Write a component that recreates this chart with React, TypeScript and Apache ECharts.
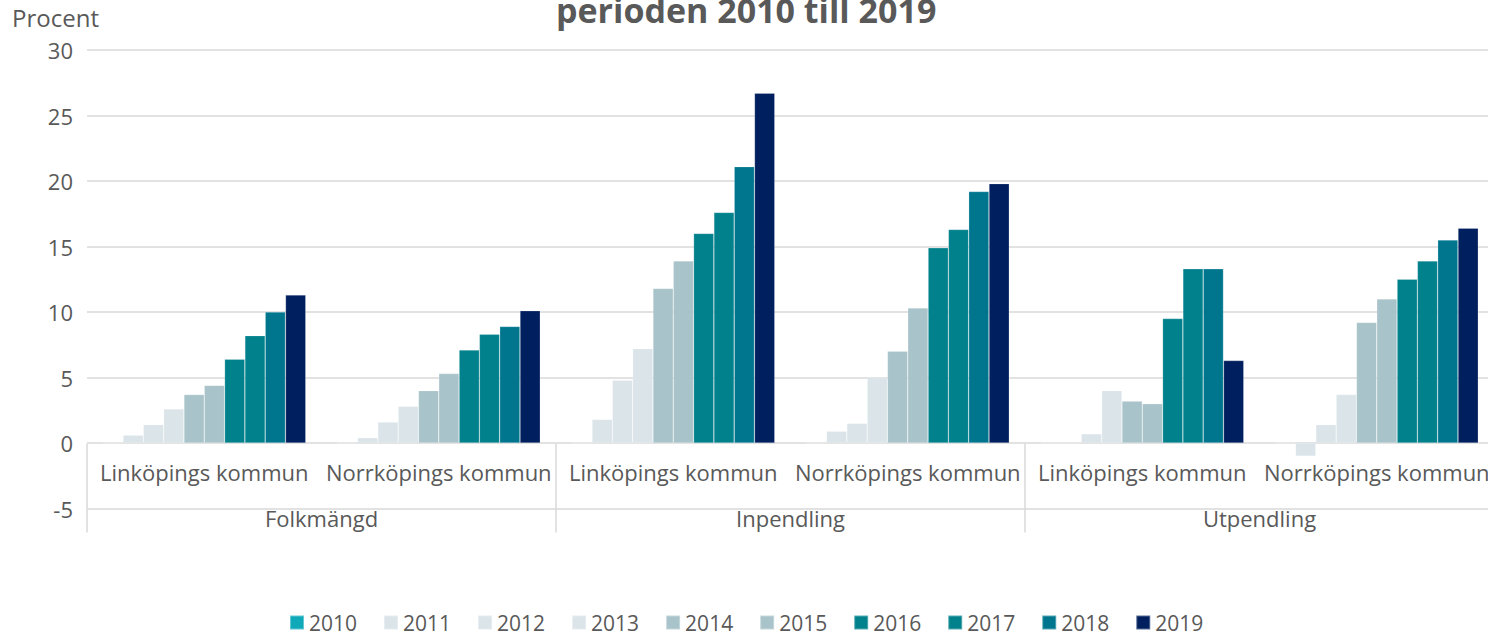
import React, { useEffect, useRef } from "react";
import * as echarts from "echarts";

const categories = [
  "Linköpings kommun",
  "Norrköpings kommun",
  "Linköpings kommun",
  "Norrköpings kommun",
  "Linköpings kommun",
  "Norrköpings kommun",
];
const groups = ["Folkmängd", "Inpendling", "Utpendling"];
const years = ["2010", "2011", "2012", "2013", "2014", "2015", "2016", "2017", "2018", "2019"];

const v2010 = [0, 0, 0, 0, 0, 0];
const v2011 = [0.6, 0.4, 1.8, 0.9, 0.0, -1.0];
const v2012 = [1.4, 1.6, 4.8, 1.5, 0.7, 1.4];
const v2013 = [2.6, 2.8, 7.2, 5.0, 4.0, 3.7];
const v2014 = [3.7, 4.0, 11.8, 7.0, 3.2, 9.2];
const v2015 = [4.4, 5.3, 13.9, 10.3, 3.0, 11.0];
const v2016 = [6.4, 7.1, 16.0, 14.9, 9.5, 12.5];
const v2017 = [8.2, 8.3, 17.6, 16.3, 13.3, 13.9];
const v2018 = [10.0, 8.9, 21.1, 19.2, 13.3, 15.5];
const v2019 = [11.3, 10.1, 26.7, 19.8, 6.3, 16.4];

const values = [v2010, v2011, v2012, v2013, v2014, v2015, v2016, v2017, v2018, v2019];
const colors = [
  "#0FA9BA",
  "#DAE4E9",
  "#DAE4E9",
  "#DAE4E9",
  "#A8C3C9",
  "#A8C3C9",
  "#00818B",
  "#00818B",
  "#00768E",
  "#001F5E",
];

const yTicks = { min: -5, max: 30, interval: 5 };

const FONT = "'Open Sans', 'Noto Sans', sans-serif";
const TEXT = "#595959";
const GRID = "#d9d9d9";

export default function App() {
  const ref = useRef<HTMLDivElement>(null);
  useEffect(() => {
    if (!ref.current) return;
    const chart = echarts.init(ref.current, undefined, { renderer: "svg" });
    chart.setOption({
      animation: false,
      color: colors,
      textStyle: { fontFamily: FONT },
      title: {
        text: "perioden 2010 till 2019",
        left: 551,
        top: -12,
        textStyle: { fontFamily: FONT, fontSize: 34, fontWeight: "bold", color: TEXT },
      },
      graphic: [
        {
          type: "text",
          left: 12,
          top: 5,
          style: { text: "Procent", fontFamily: FONT, fontSize: 24, fill: TEXT },
        },
      ],
      legend: {
        top: 607,
        left: 284,
        icon: "rect",
        itemWidth: 14,
        itemHeight: 14,
        itemGap: 26,
        textStyle: { fontFamily: FONT, fontSize: 21, color: TEXT },
        data: years,
      },
      grid: { left: 87, right: 6, top: 50, height: 458.5, containLabel: false },
      xAxis: [
        {
          type: "category",
          data: categories,
          position: "bottom",
          axisLine: { show: false, onZero: false },
          axisTick: { show: false },
          axisLabel: {
            interval: 0,
            margin: -48,
            fontFamily: FONT,
            fontSize: 22,
            color: TEXT,
            verticalAlign: "top",
          },
        },
        {
          type: "category",
          data: groups,
          position: "bottom",
          axisLine: { show: false, onZero: false },
          axisTick: { show: true, length: 24, lineStyle: { color: GRID, width: 1.5 } },
          axisLabel: {
            interval: 0,
            margin: -2,
            fontFamily: FONT,
            fontSize: 22,
            color: TEXT,
            verticalAlign: "top",
          },
        },
        {
          type: "category",
          data: groups,
          position: "bottom",
          axisLine: { show: false, onZero: false },
          axisTick: { show: true, inside: true, length: 65, lineStyle: { color: GRID, width: 1.5 } },
          axisLabel: { show: false },
        },
      ],
      yAxis: {
        type: "value",
        min: yTicks.min,
        max: yTicks.max,
        interval: yTicks.interval,
        axisLine: { show: false },
        axisTick: { show: false },
        axisLabel: { fontFamily: FONT, fontSize: 22, color: TEXT, margin: 14 },
        splitLine: { lineStyle: { color: GRID, width: 1.5 } },
      },
      series: years.map((y, i) => ({
        name: y,
        type: "bar",
        xAxisIndex: 0,
        data: values[i],
        barGap: "0%",
        barCategoryGap: "13.4%",
        itemStyle: {
          color: colors[i],
          borderColor: "rgba(255,255,255,0.35)",
          borderWidth: 0.6,
        },
      })),
    });
    return () => chart.dispose();
  }, []);
  return (
    <div
      ref={ref}
      style={{ position: "fixed", left: 0, top: 0, width: 1500, height: 636, background: "#fff" }}
    />
  );
}
